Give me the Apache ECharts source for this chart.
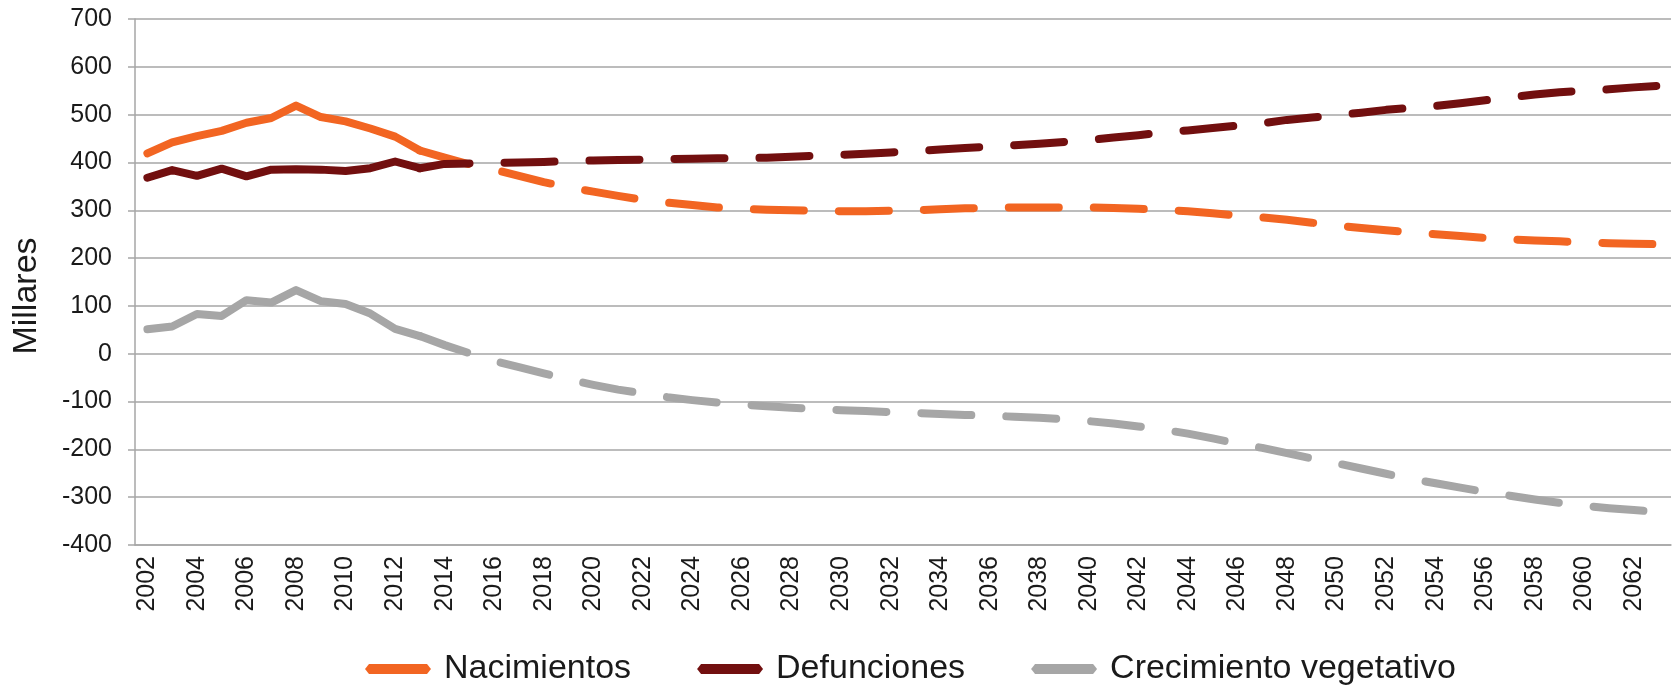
<!DOCTYPE html>
<html>
<head>
<meta charset="utf-8">
<title>Nacimientos, defunciones y crecimiento vegetativo</title>
<script src="https://cdn.jsdelivr.net/npm/echarts@6/dist/echarts.min.js"></script>
<style>
	html, body { margin: 0; padding: 0; background: #fff; }
	#lineChart { width: 1675px; height: 686px; }
</style>
</head>
<body>
<div id="lineChart"></div>
<script>
// años 2002-2063
var years = ['2002','2003','2004','2005','2006','2007','2008','2009','2010','2011',
	'2012','2013','2014','2015','2016','2017','2018','2019','2020','2021',
	'2022','2023','2024','2025','2026','2027','2028','2029','2030','2031',
	'2032','2033','2034','2035','2036','2037','2038','2039','2040','2041',
	'2042','2043','2044','2045','2046','2047','2048','2049','2050','2051',
	'2052','2053','2054','2055','2056','2057','2058','2059','2060','2061',
	'2062','2063'];

var yTicks = [-400, -300, -200, -100, 0, 100, 200, 300, 400, 500, 600, 700];

// datos observados 2002-2013 (miles)
var nacimientosHist = [419, 442, 455, 466, 483, 493, 519, 495, 486, 471, 454, 425];
var defuncionesHist = [368, 384, 372, 387, 371, 385, 386, 385, 382, 388, 402, 388];
var crecimientoHist = [51, 57, 83, 79, 112, 107, 133, 110, 104, 84, 52, 37];

// proyección 2013-2063 (miles)
var nacimientosProj = [425, 410, 396, 385, 372, 359, 348, 339, 330, 322,
	316, 311, 306, 303, 301, 300, 299, 298, 298, 299,
	300, 302, 304, 305, 306, 306, 306, 306, 305, 303,
	301, 298, 294, 289, 285, 280, 274, 268, 263, 258,
	254, 250, 246, 242, 239, 237, 235, 233, 231, 230,
	229];
var defuncionesProj = [388, 397, 398, 399, 400, 401, 403, 404, 405, 406,
	407, 408, 409, 409, 410, 412, 414, 416, 418, 421,
	424, 427, 430, 433, 436, 439, 443, 447, 452, 457,
	463, 467, 472, 477, 482, 489, 494, 499, 504, 510,
	514, 518, 524, 530, 536, 542, 547, 550, 553, 557,
	560];
var crecimientoProj = [37, 18, 1, -15, -28, -41, -54, -65, -75, -83,
	-91, -97, -102, -106, -110, -113, -116, -118, -120, -122,
	-124, -126, -128, -129, -132, -134, -137, -141, -146, -152,
	-159, -167, -177, -188, -197, -208, -219, -229, -240, -251,
	-262, -271, -280, -289, -297, -305, -312, -318, -323, -327,
	-331];

var seriesNames = ['Nacimientos', 'Defunciones', 'Crecimiento vegetativo'];

var chartObj = {

	colors: ['#f26522', '#720f0f', '#a6a6a6'],
	gridColor: '#a6a6a6',
	textColor: '#1a1a1a',
	font: '"Liberation Sans", Arial, sans-serif',

	init: function(){
		var myChart = echarts.init(document.getElementById('lineChart'));
		myChart.setOption(this.getOption());
	},

	// rellena con null los años que no tocan
	padHist: function(arr){
		var out = arr.slice();
		while(out.length < years.length){
			out.push(null);
		}
		return out;
	},

	padProj: function(arr){
		var out = [];
		var start = years.length - arr.length;
		for(var i = 0; i < start; i++){
			out.push(null);
		}
		return out.concat(arr);
	},

	makeSeries: function(name, data, color, dashed){
		return {
			name: name,
			type: 'line',
			data: data,
			symbol: 'none',
			connectNulls: false,
			itemStyle: { color: color },
			lineStyle: {
				color: color,
				width: 8,
				type: dashed ? [50, 35] : 'solid',
				cap: 'round',
				join: 'round'
			}
		};
	},

	getOption: function(){
		var own = this;
		var legendIcon = 'path://M0,5L4,0L62,0L66,5L62,10L4,10Z';
		return {
			animation: false,
			backgroundColor: '#fff',
			textStyle: {
				fontFamily: own.font
			},
			grid: {
				left: 135,
				right: 4,
				top: 19,
				bottom: 141
			},
			legend: {
				data: seriesNames,
				left: 360,
				top: 647,
				itemWidth: 66,
				itemHeight: 10,
				itemGap: 66,
				icon: legendIcon,
				textStyle: {
					fontSize: 34,
					color: own.textColor,
					fontFamily: own.font,
					padding: [0, 0, 0, 8]
				}
			},
			xAxis: {
				type: 'category',
				data: years,
				boundaryGap: true,
				axisLine: {
					onZero: false,
					lineStyle: { color: own.gridColor, width: 1.5 }
				},
				axisTick: { show: false },
				axisLabel: {
					interval: 1,
					rotate: 90,
					margin: 11,
					fontSize: 25,
					color: own.textColor,
					fontFamily: own.font
				}
			},
			yAxis: {
				type: 'value',
				min: yTicks[0],
				max: yTicks[yTicks.length - 1],
				interval: 100,
				name: 'Millares',
				nameLocation: 'middle',
				nameGap: 91,
				nameTextStyle: {
					fontSize: 34,
					color: own.textColor,
					fontFamily: own.font,
					padding: [0, 28, 0, 0]
				},
				axisLine: {
					show: true,
					lineStyle: { color: own.gridColor, width: 1.5 }
				},
				axisTick: {
					show: true,
					length: 7,
					lineStyle: { color: own.gridColor, width: 1.5 }
				},
				axisLabel: {
					margin: 23,
					fontSize: 25,
					color: own.textColor,
					fontFamily: own.font
				},
				splitLine: {
					lineStyle: { color: own.gridColor, width: 1.5 }
				}
			},
			series: [
				own.makeSeries(seriesNames[0], own.padHist(nacimientosHist), own.colors[0], false),
				own.makeSeries(seriesNames[0], own.padProj(nacimientosProj), own.colors[0], true),
				own.makeSeries(seriesNames[1], own.padHist(defuncionesHist), own.colors[1], false),
				own.makeSeries(seriesNames[1], own.padProj(defuncionesProj), own.colors[1], true),
				own.makeSeries(seriesNames[2], own.padHist(crecimientoHist), own.colors[2], false),
				own.makeSeries(seriesNames[2], own.padProj(crecimientoProj), own.colors[2], true)
			]
		};
	}
};

chartObj.init();
</script>
</body>
</html>
